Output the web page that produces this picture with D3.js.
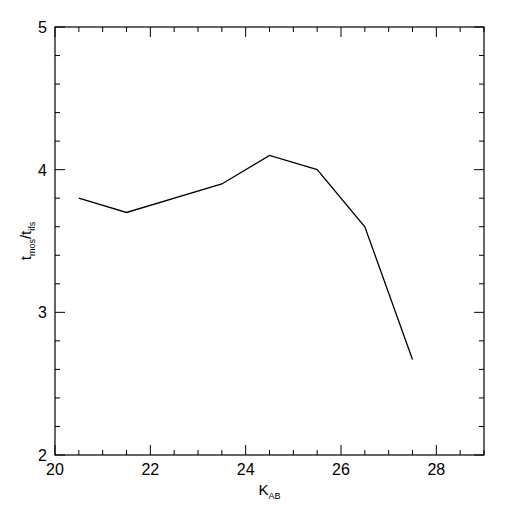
<!DOCTYPE html><html><head><script src="https://cdn.jsdelivr.net/npm/d3@7"></script>
<style>body{margin:0;background:#fff}</style></head><body><svg id="c" width="510" height="510"></svg>
<script>
const kab=[20.5,21.5,23.5,24.5,25.5,26.5,27.5];
const ratio=[3.8,3.7,3.9,4.1,4.0,3.6,2.67];
const xMajor=[20,22,24,26,28];
const yMajor=[2,3,4,5];
const svg=d3.select("#c");
const L=55,R=484,T=27,B=455;
const x=d3.scaleLinear().domain([20,29]).range([L,R]);
const y=d3.scaleLinear().domain([2,5]).range([B,T]);
svg.append("rect").attr("x",L).attr("y",T).attr("width",R-L).attr("height",B-T).attr("fill","none").attr("stroke","#000").attr("stroke-width",1.2);
const g=svg.append("g").attr("stroke","#000").attr("stroke-width",1);
for(let v=20;v<=29.001;v+=0.5){const maj=Math.abs(v%2)<1e-6;const l=maj?10:5;
 g.append("line").attr("x1",x(v)).attr("x2",x(v)).attr("y1",B).attr("y2",B-l);
 g.append("line").attr("x1",x(v)).attr("x2",x(v)).attr("y1",T).attr("y2",T+l);}
for(let v=2;v<=5.001;v+=0.2){const maj=Math.abs(v-Math.round(v))<1e-6;const l=maj?10:5;
 g.append("line").attr("y1",y(v)).attr("y2",y(v)).attr("x1",L).attr("x2",L+l);
 g.append("line").attr("y1",y(v)).attr("y2",y(v)).attr("x1",R).attr("x2",R-l);}
const f="Liberation Sans, Arial, sans-serif";
xMajor.forEach(v=>svg.append("text").attr("x",x(v)).attr("y",B+20).attr("text-anchor","middle").attr("font-family",f).attr("font-size",16).text(v));
yMajor.forEach(v=>svg.append("text").attr("x",L-8).attr("y",y(v)+6).attr("text-anchor","end").attr("font-family",f).attr("font-size",16).text(v));
const xl=svg.append("text").attr("x",(L+R)/2).attr("y",B+40).attr("text-anchor","middle").attr("font-family",f).attr("font-size",15);
xl.append("tspan").text("K");xl.append("tspan").attr("font-size",9).attr("dy",4).text("AB");
const yl=svg.append("text").attr("transform",`translate(${L-24},${(T+B)/2}) rotate(-90)`).attr("text-anchor","middle").attr("font-family",f).attr("font-size",15);
yl.append("tspan").text("t");yl.append("tspan").attr("font-size",9).attr("dy",4).text("mos");
yl.append("tspan").attr("dy",-4).text("/t");yl.append("tspan").attr("font-size",9).attr("dy",4).text("ifs");
svg.append("path").datum(kab.map((k,i)=>[k,ratio[i]])).attr("fill","none").attr("stroke","#000").attr("stroke-width",1.3)
 .attr("d",d3.line().x(d=>x(d[0])).y(d=>y(d[1])));
</script></body></html>
